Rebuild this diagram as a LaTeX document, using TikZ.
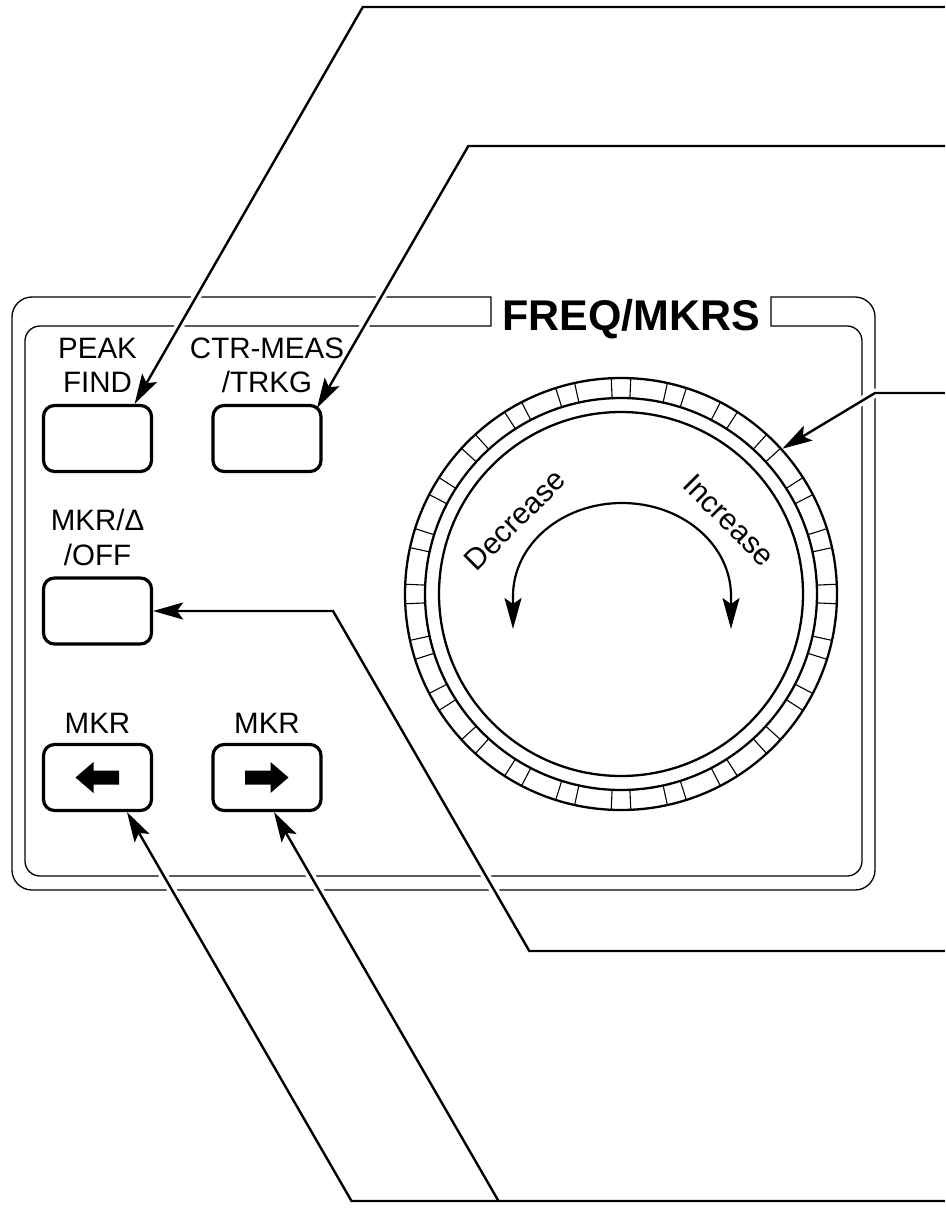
\documentclass[tikz,border=0pt]{standalone}
\usepackage{fontspec}
\setmainfont{Liberation Sans}
\usetikzlibrary{arrows.meta,calc}
\begin{document}
\begin{tikzpicture}[x=1pt,y=1pt,
  panel/.style={line width=1.3pt},
  btn/.style={draw, line width=3.2pt, rounded corners=11pt, minimum width=108pt, minimum height=66pt, inner sep=0pt},
  lbl/.style={font=\fontsize{29.5}{34}\selectfont, anchor=base, inner sep=0pt},
  lead/.style={line width=2.4pt, -{Stealth[length=30pt,width=17pt,inset=6pt]}},
  halo/.style={line width=9pt, white, shorten >=34pt},
  ring/.style={line width=2.3pt},
  knobtick/.style={line width=1.1pt},
  turn/.style={line width=2.2pt, {Stealth[length=31pt,width=17pt,inset=6pt]}-{Stealth[length=31pt,width=17pt,inset=6pt]}},
  dialtext/.style={font=\fontsize{30}{34}\selectfont, inner sep=0pt}
]
\useasboundingbox (0,0) rectangle (945,-1209);

% panel (double rounded outline with title gap)
\draw[panel] (491,-326) -- (491,-297) -- (32,-297)
  arc[start angle=90, end angle=180, radius=20] -- (12,-870)
  arc[start angle=180, end angle=270, radius=20] -- (855,-890)
  arc[start angle=270, end angle=360, radius=20] -- (875,-317)
  arc[start angle=0, end angle=90, radius=20] -- (771,-297) -- (771,-326)
  -- (847,-326) arc[start angle=90, end angle=0, radius=15] -- (862,-861)
  arc[start angle=0, end angle=-90, radius=15] -- (40,-876)
  arc[start angle=270, end angle=180, radius=15] -- (25,-341)
  arc[start angle=180, end angle=90, radius=15] -- cycle;

% knob
\node[circle, draw, ring, minimum size=432pt, inner sep=0pt] (knob) at (621,-594) {};
\begin{scope}[shift={(knob.center)}]
  \draw[ring] (0,0) circle[radius=196];
  \draw[ring] (0,0) circle[radius=182];
  \foreach \a in {0,15,...,345} {
    \draw[knobtick] (\a-2.6:196) -- (\a-2.6:216);
    \draw[knobtick] (\a+2.6:196) -- (\a+2.6:216);
  }
  \draw[turn] (-108,-35) -- (-108,-2) arc[start angle=180, end angle=0, x radius=109, y radius=93] -- (110,-35);
\end{scope}
\node[dialtext, rotate=45] (dec) at (515,-520) {Decrease};
\node[dialtext, rotate=-45] (inc) at (729,-520) {Increase};

% buttons
\node[btn] (bPeak) at (97.5,-438.5) {};
\node[btn] (bCtr) at (267,-438.5) {};
\node[btn] (bMkr) at (97.5,-611) {};
\node[btn] (bLeft) at (97.5,-777.5) {};
\node[btn] (bRight) at (267,-777.5) {};

\begin{scope}[shift={(bLeft.center)}]
  \fill (-22,0) -- (-4,15.5) -- (-4,7) -- (21.5,7) -- (21.5,-7) -- (-4,-7) -- (-4,-15.5) -- cycle;
\end{scope}
\begin{scope}[shift={(bRight.center)}]
  \fill (21.5,0) -- (3.5,15.5) -- (3.5,7) -- (-22,7) -- (-22,-7) -- (3.5,-7) -- (3.5,-15.5) -- cycle;
\end{scope}

% leader coordinates
\coordinate (l1e) at (945,-7);   \coordinate (l1k) at (362.8,-7);
\coordinate (l2e) at (945,-146); \coordinate (l2k) at (468.3,-146);
\coordinate (l3e) at (945,-393); \coordinate (l3k) at (875,-393);
\coordinate (l4e) at (945,-951); \coordinate (l4k) at (529.3,-951); \coordinate (l4j) at (333,-611);
\coordinate (l5e) at (945,-1201); \coordinate (l6k) at (498.5,-1201); \coordinate (l5k) at (351.5,-1201);
\coordinate (t2) at ($(bCtr.center)+(50,30.5)$);
\coordinate (t5) at ($(bLeft.south)+(29.5,0)$);
\coordinate (t6) at ($(bRight.south)+(7,0)$);

% white halos where leaders cross the panel lines
\draw[halo] (l1e) -- (l1k) -- (bPeak.43);
\draw[halo] (l2e) -- (l2k) -- (t2);
\draw[halo] (l3e) -- (l3k) -- (knob.42.5);
\draw[halo] (l4e) -- (l4k) -- (l4j) -- (bMkr.east);
\draw[halo] (l5e) -- (l5k) -- (t5);
\draw[halo] (l6k) -- (t6);

% labels
\node[lbl] (tPeak1) at (97.5,-358) {PEAK};
\node[lbl] (tPeak2) at (97.5,-392) {FIND};
\node[lbl] (tCtr1) at (267,-358) {CTR-MEAS};
\node[lbl] (tCtr2) at (267,-392) {/TRKG};
\node[lbl] (tMkr1) at (97.5,-530) {MKR/Δ};
\node[lbl] (tMkr2) at (97.5,-565) {/OFF};
\node[lbl] (tL) at (97.5,-733) {MKR};
\node[lbl] (tR) at (267,-733) {MKR};
\node[font=\fontsize{43}{50}\selectfont\bfseries, anchor=base, inner sep=0pt] (title) at (631,-330) {FREQ/MKRS};

% leaders
\draw[lead] (l1e) -- (l1k) -- (bPeak.43);
\draw[lead] (l2e) -- (l2k) -- (t2);
\draw[lead] (l3e) -- (l3k) -- (knob.42.5);
\draw[lead] (l4e) -- (l4k) -- (l4j) -- (bMkr.east);
\draw[lead] (l5e) -- (l5k) -- (t5);
\draw[lead] (l6k) -- (t6);
\end{tikzpicture}
\end{document}
